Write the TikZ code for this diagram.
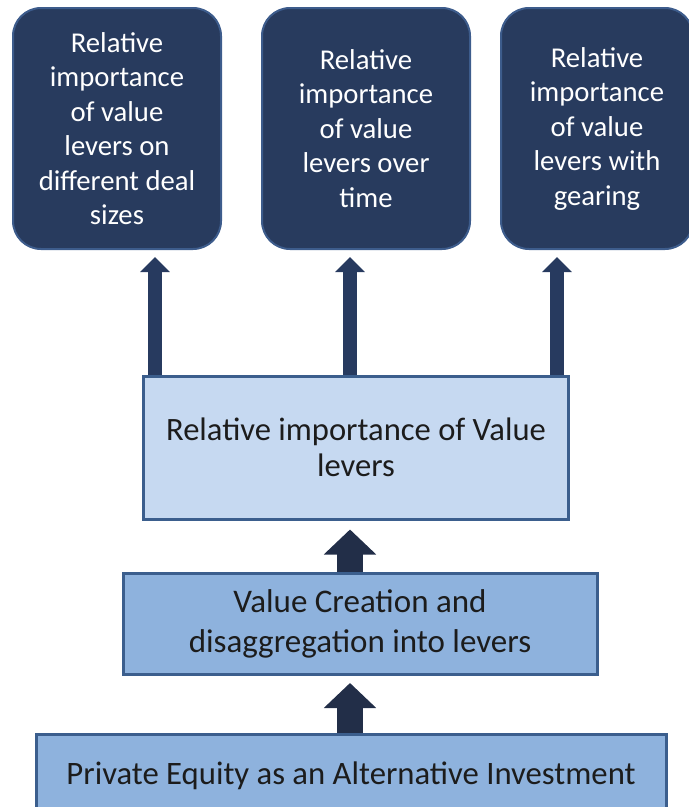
\documentclass[tikz,border=0pt]{standalone}
\usepackage{fontspec}
\setmainfont{Carlito}
\usetikzlibrary{arrows.meta}
\definecolor{navybox}{HTML}{283B5E}
\definecolor{navyline}{HTML}{3D5C8C}
\definecolor{paleblue}{HTML}{C6D9F1}
\definecolor{midblue}{HTML}{8EB2DD}
\definecolor{boxline}{HTML}{3B5E8D}
\definecolor{arrowdark}{HTML}{222E48}
\definecolor{arrownavy}{HTML}{273A5F}
\definecolor{textdark}{HTML}{1C1C1C}
\begin{document}
\begin{tikzpicture}
[x=1pt,y=-1pt,
 leverdecorate/.style={shape=rectangle,rounded corners=28pt,draw=navyline,line width=2pt,
   fill=navybox,text=white,align=center,inner sep=0pt,minimum height=241pt,
   font=\fontsize{28.7}{34.5}\selectfont},%
 stagedecorate/.style={shape=rectangle,draw=boxline,line width=3pt,fill=midblue,
   text=textdark,align=center,inner sep=0pt,font=\fontsize{33}{40}\selectfont},%
 thinarrow/.style={line width=14pt,draw=arrownavy,-{Triangle[width=29pt,length=15pt]},shorten >=7pt},%
 thickarrow/.style={line width=26pt,draw=arrowdark,-{Triangle[width=51pt,length=25pt]}}]
\useasboundingbox (0,0) rectangle (689,807);
%% lever boxes on top
\foreach \nodename/\x/\boxwd/\txt in {
  dealsize/117/208/{Relative\\importance\\of value\\levers on\\different deal\\sizes},
  overtime/366/208/{Relative\\importance\\of value\\levers over\\time},
  gearing/597/192/{Relative\\importance\\of value\\levers with\\gearing}}
{
  \node (\nodename) at (\x,128.5) [leverdecorate,minimum width=\boxwd pt] {\txt};
}
%% stacked boxes
\node (levers) at (356,447.5) [stagedecorate,fill=paleblue,minimum width=425pt,
  minimum height=143pt,font=\fontsize{32.6}{35.5}\selectfont] {Relative importance of Value\\levers};
\node (creation) at (360,624) [stagedecorate,minimum width=474pt,minimum height=101pt]
  {Value Creation and\\disaggregation into levers};
\node (privequity) at (351,776) [stagedecorate,minimum width=630pt,minimum height=84pt,
  font=\fontsize{32.7}{40}\selectfont] {Private Equity as an Alternative Investment};
%% arrows
\foreach \name/\x in {dealarrow/155, timearrow/350, gearingarrow/557, stackarrow/350}
{
  \coordinate (\name) at (\x,0);
}
\path
\foreach \startname/\endnode in {dealarrow/dealsize, timearrow/overtime, gearingarrow/gearing}
{
  (\startname |- levers.north) edge[thinarrow] (\startname |- \endnode.south)
};
\draw[thickarrow,shorten >=9pt] (stackarrow |- creation.north) -- (stackarrow |- levers.south);
\draw[thickarrow,shorten >=7pt] (stackarrow |- privequity.north) -- (stackarrow |- creation.south);
\end{tikzpicture}
\end{document}
